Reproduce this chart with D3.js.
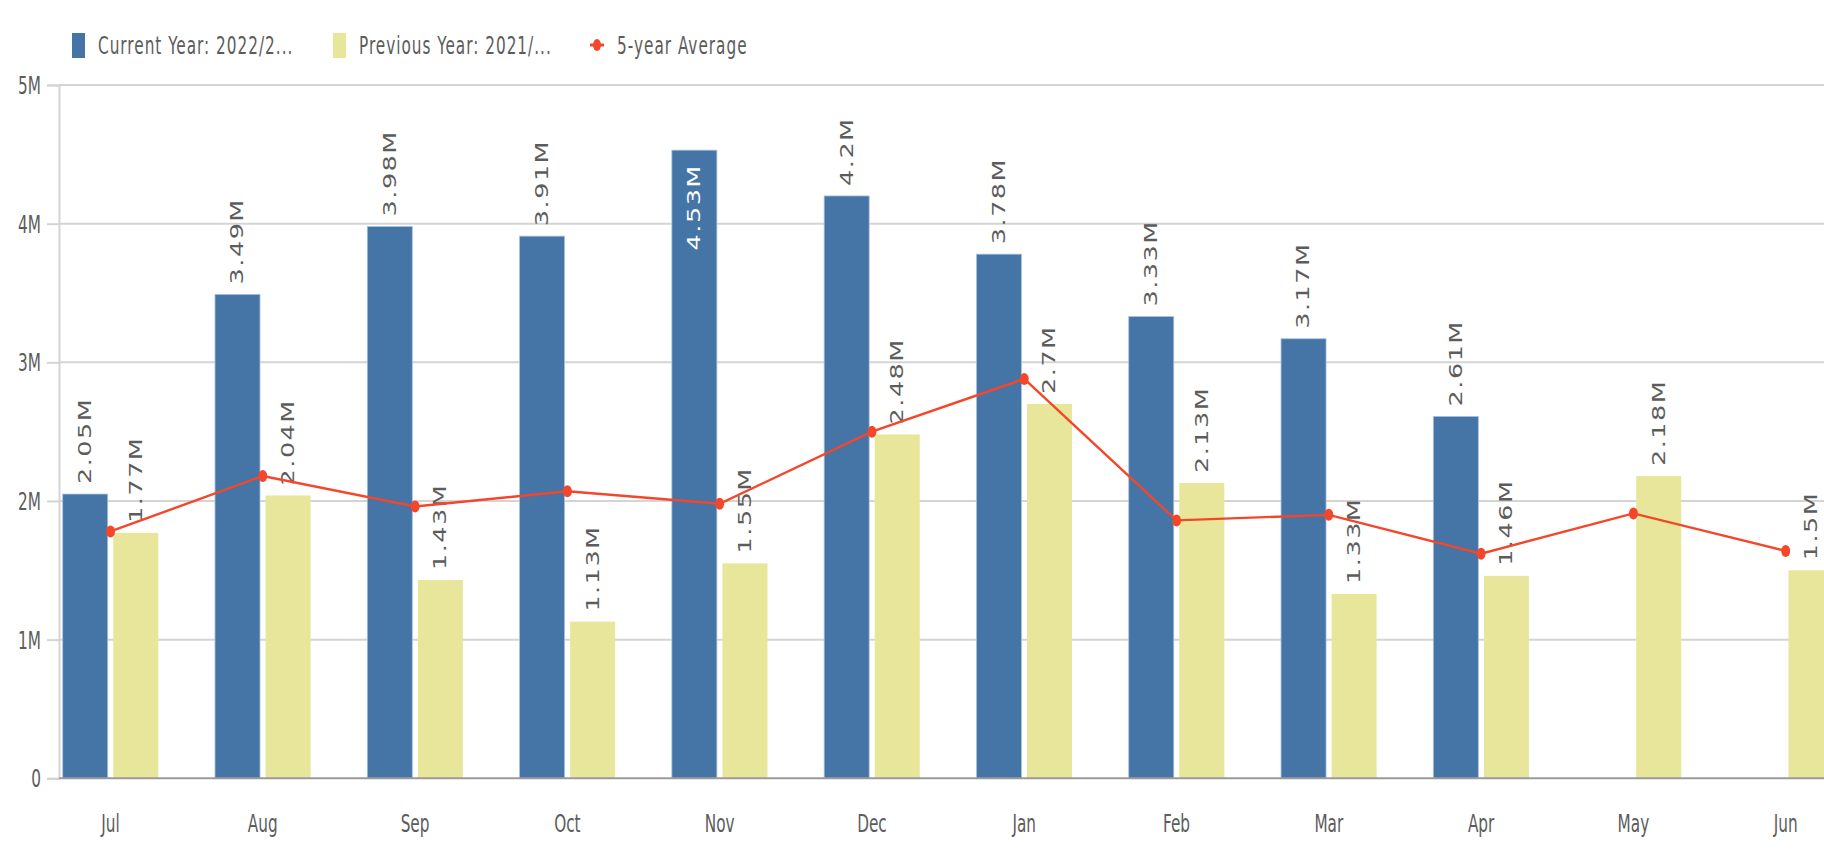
<!DOCTYPE html>
<html>
<head>
<meta charset="utf-8">
<script src="https://cdn.jsdelivr.net/npm/d3@7"></script>
<style>
  html, body { margin: 0; padding: 0; background: #fff; overflow: hidden; }
  svg { display: block; }
</style>
</head>
<body>
<svg></svg>
<script>
const months   = ["Jul","Aug","Sep","Oct","Nov","Dec","Jan","Feb","Mar","Apr","May","Jun"];
const current  = [2.05, 3.49, 3.98, 3.91, 4.53, 4.2, 3.78, 3.33, 3.17, 2.61, null, null];   // millions
const previous = [1.77, 2.04, 1.43, 1.13, 1.55, 2.48, 2.7, 2.13, 1.33, 1.46, 2.18, 1.5];
const average  = [1.78, 2.18, 1.96, 2.07, 1.98, 2.5, 2.88, 1.86, 1.9, 1.62, 1.91, 1.64];
const yTicks   = [0, 1, 2, 3, 4, 5];
const legendLabels = ["Current Year: 2022/2...", "Previous Year: 2021/...", "5-year Average"];

const width = 1824,
      height = 856,
      stretch = 1.5,            // the picture is tall-stretched, so is the text
      blue = "#4575a7",
      yellow = "#e8e69b",
      red = "#f4462b",
      grid = "#d4d4d4",
      ink = "#5c5c5c",
      condensed = "'DejaVu Sans Condensed', 'DejaVu Sans', sans-serif";

const svg = d3.select("svg")
  .attr("width", width)
  .attr("height", height);

const x = d3.scalePoint()
  .domain(months)
  .range([110.5, 1785.7]);

const sub = d3.scaleBand()
  .domain(["cur", "prev"])
  .range([-47.8, 47.8])
  .paddingInner(0.11);

const y = d3.scaleLinear()
  .domain([0, 5])
  .range([778.3, 85]);

// gridlines
svg.append("g")
  .selectAll("line")
  .data(yTicks.filter(d => d > 0))
  .enter().append("line")
    .attr("x1", 59).attr("x2", width)
    .attr("y1", d => y(d)).attr("y2", d => y(d))
    .attr("stroke", grid)
    .attr("stroke-width", 2);

// y axis
const yAxis = svg.append("g")
  .attr("transform", "translate(59,0)")
  .call(d3.axisLeft(y).tickValues(yTicks).tickSize(12).tickPadding(6)
    .tickFormat(d => d === 0 ? "0" : d + "M"));
yAxis.select(".domain").attr("stroke", grid).attr("stroke-width", 2);
yAxis.selectAll(".tick line").attr("stroke", grid).attr("stroke-width", 2);
yAxis.selectAll(".tick text")
  .attr("fill", ink)
  .style("font-family", condensed)
  .style("font-size", "17px")
  .attr("dy", "0.34em")
  .attr("transform", "scale(1," + stretch + ")");

// bars
const groups = svg.append("g")
  .selectAll("g")
  .data(months)
  .enter().append("g")
    .attr("transform", d => "translate(" + x(d) + ",0)");

const barData = (m, i) => [
  { key: "cur", v: current[i], fill: blue },
  { key: "prev", v: previous[i], fill: yellow }
].filter(b => b.v != null);

groups.selectAll("rect")
  .data(barData)
  .enter().append("rect")
    .attr("x", d => sub(d.key))
    .attr("width", sub.bandwidth())
    .attr("y", d => y(d.v))
    .attr("height", d => y(0) - y(d.v))
    .attr("fill", d => d.fill)
    .attr("stroke", d => d.key === "cur" ? "#a9c2dc" : "none")
    .attr("stroke-width", 0.8);

// x axis baseline
svg.append("line")
  .attr("x1", 59).attr("x2", width)
  .attr("y1", y(0)).attr("y2", y(0))
  .attr("stroke", "#9a9a9a")
  .attr("stroke-width", 2);

// month labels
svg.append("g")
  .selectAll("text")
  .data(months)
  .enter().append("text")
    .attr("transform", d => "translate(" + x(d) + ",823) scale(1," + stretch + ")")
    .attr("text-anchor", "middle")
    .attr("dy", "0.35em")
    .attr("fill", ink)
    .style("font-family", condensed)
    .style("font-size", "17px")
    .text(d => d);

// value labels, rotated
groups.each(function(m, i) {
  const g = d3.select(this);
  barData(m, i).forEach(b => {
    const cx = sub(b.key) + sub.bandwidth() / 2,
          top = y(b.v),
          label = g.append("text")
            .attr("dominant-baseline", "central")
            .style("font-family", "'DejaVu Sans', sans-serif")
            .style("font-size", "17px")
            .style("letter-spacing", "1px")
            .text(b.v + "M");
    const len = label.node().getComputedTextLength() * stretch;
    let inside = top - 10 - len < 85;
    label
      .attr("text-anchor", inside ? "end" : "start")
      .attr("fill", inside ? "#ffffff" : ink)
      .attr("transform", "translate(" + cx + "," + (inside ? top + 14 : top - 10) +
        ") rotate(-90) scale(" + stretch + ",1)");
  });
});

// 5-year average line
const line = d3.line()
  .x((d, i) => x(months[i]))
  .y(d => y(d));

svg.append("path")
  .datum(average)
  .attr("fill", "none")
  .attr("stroke", red)
  .attr("stroke-width", 2.4)
  .attr("d", line);

svg.append("g")
  .selectAll("ellipse")
  .data(average)
  .enter().append("ellipse")
    .attr("cx", (d, i) => x(months[i]))
    .attr("cy", d => y(d))
    .attr("rx", 4.5)
    .attr("ry", 6)
    .attr("fill", red);

// legend
const legend = svg.append("g");
const legendX = [72, 333, 590];

legend.selectAll("rect")
  .data([blue, yellow])
  .enter().append("rect")
    .attr("x", (d, i) => legendX[i])
    .attr("y", 33)
    .attr("width", 13)
    .attr("height", 25)
    .attr("fill", d => d);

legend.append("line")
  .attr("x1", legendX[2]).attr("x2", legendX[2] + 14)
  .attr("y1", 45).attr("y2", 45)
  .attr("stroke", red).attr("stroke-width", 3);
legend.append("ellipse")
  .attr("cx", legendX[2] + 7).attr("cy", 45)
  .attr("rx", 4).attr("ry", 6)
  .attr("fill", red);

legend.selectAll("text")
  .data(legendLabels)
  .enter().append("text")
    .attr("transform", (d, i) => "translate(" + (legendX[i] + (i < 2 ? 26 : 27)) + ",45) scale(1," + stretch + ")")
    .attr("dy", "0.35em")
    .attr("fill", ink)
    .style("font-family", condensed)
    .style("font-size", "17px")
    .style("letter-spacing", "1px")
    .text(d => d);
</script>
</body>
</html>
